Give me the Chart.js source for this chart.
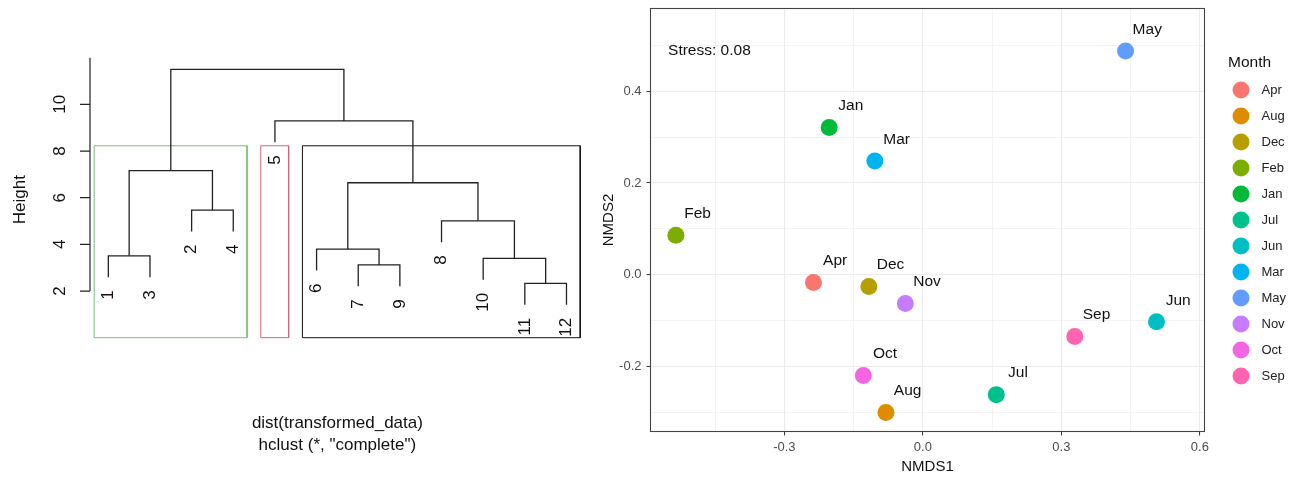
<!DOCTYPE html>
<html>
<head>
<meta charset="utf-8">
<title>Dendrogram and NMDS</title>
<script src="https://cdn.jsdelivr.net/npm/chart.js@4.4.1/dist/chart.umd.min.js"></script>
<style>
  html, body { margin: 0; padding: 0; background: #fff; }
  #wrap { position: relative; width: 1303px; height: 479px; }
  #dendro { position: absolute; left: 0; top: 0; }
  #nmds { position: absolute; left: 600px; top: 0; }
</style>
</head>
<body>
<div id="wrap">
  <canvas id="dendro" width="600" height="479"></canvas>
  <canvas id="nmds" width="703" height="479"></canvas>
</div>
<script>
// ---- hclust (complete linkage) ----
const leafOrder = [1, 3, 2, 4, 5, 6, 7, 9, 8, 10, 11, 12];
// merge steps like R's hclust$merge: negative = leaf, positive = earlier step
const mergeLeft = [-11, -7, -10, -1, -6, -8, -2, 5, 4, -5, 9];
const mergeRight = [-12, -9, 1, -3, 2, 3, -4, 6, 7, 8, 10];
const mergeHeight = [2.33, 3.12, 3.40, 3.51, 3.80, 5.01, 5.47, 6.64, 7.16, 9.29, 11.5];
const heightTicks = [2, 4, 6, 8, 10];
const clusterSizes = [4, 1, 7];
const clusterColors = ['#74c074', '#d5657e', '#111111'];

// ---- NMDS ----
const months = ['Apr', 'Aug', 'Dec', 'Feb', 'Jan', 'Jul', 'Jun', 'Mar', 'May', 'Nov', 'Oct', 'Sep'];
const nmds1 = [-0.237, -0.080, -0.117, -0.535, -0.203, 0.159, 0.506, -0.104, 0.439, -0.038, -0.129, 0.329];
const nmds2 = [-0.017, -0.301, -0.026, 0.086, 0.321, -0.262, -0.103, 0.248, 0.488, -0.063, -0.220, -0.135];
const monthColors = ['#F8766D', '#DE8C00', '#B79F00', '#7CAE00', '#00BA38', '#00C08B',
                     '#00BFC4', '#00B4F0', '#619CFF', '#C77CFF', '#F564E3', '#FF64B0'];
const xTicks = [-0.3, 0.0, 0.3, 0.6];
const yTicks = [-0.2, 0.0, 0.2, 0.4];
const stressValue = 0.08;

const FONT = '"Liberation Sans", Arial, sans-serif';
Chart.defaults.font.family = FONT;

// ---------------- Dendrogram ----------------
const hangDrop = 0.1 * (Math.max(...mergeHeight) - Math.min(...mergeHeight));
const nodeX = [];
const leafTop = {};
const branchSets = [];

function childPoint(id, parentH) {
    if (id < 0) {
        const y = parentH - hangDrop;
        leafTop[-id] = y;
        return { x: leafOrder.indexOf(-id) + 1, y: y };
    }
    return { x: nodeX[id - 1], y: mergeHeight[id - 1] };
}

mergeHeight.forEach((h, i) => {
    const a = childPoint(mergeLeft[i], h);
    const b = childPoint(mergeRight[i], h);
    nodeX[i] = (a.x + b.x) / 2;
    branchSets.push({
        data: [a, { x: a.x, y: h }, { x: b.x, y: h }, b],
        showLine: true, pointRadius: 0, borderColor: '#222', borderWidth: 1.3,
        tension: 0, clip: false
    });
});

// rect.hclust(k = 3)
const sortedDesc = [...mergeHeight].sort((p, q) => q - p);
const k = clusterSizes.length;
const rectTop = (sortedDesc[k - 2] + sortedDesc[k - 1]) / 2;
let cum = 0;
const rectSets = clusterSizes.map((n, i) => {
    const x0 = cum + 0.66, x1 = cum + n + 0.33;
    cum += n;
    return {
        data: [{ x: x0, y: 0 }, { x: x0, y: rectTop }, { x: x1, y: rectTop }, { x: x1, y: 0 }, { x: x0, y: 0 }],
        showLine: true, pointRadius: 0, borderColor: clusterColors[i], borderWidth: 1,
        tension: 0, clip: false
    };
});

const dendroText = {
    id: 'dendroText',
    afterDraw(chart) {
        const { ctx, chartArea: area, scales: { x, y } } = chart;
        ctx.save();
        ctx.strokeStyle = '#222';
        ctx.fillStyle = '#111';
        ctx.lineWidth = 1.2;
        // axis line and ticks
        ctx.beginPath();
        ctx.moveTo(area.left, y.getPixelForValue(heightTicks[0]));
        ctx.lineTo(area.left, y.getPixelForValue(y.max));
        heightTicks.forEach(t => {
            const py = y.getPixelForValue(t);
            ctx.moveTo(area.left - 10, py);
            ctx.lineTo(area.left, py);
        });
        ctx.stroke();

        ctx.font = '17px ' + FONT;
        ctx.textAlign = 'center';
        ctx.textBaseline = 'middle';
        heightTicks.forEach(t => {
            ctx.save();
            ctx.translate(area.left - 30, y.getPixelForValue(t));
            ctx.rotate(-Math.PI / 2);
            ctx.fillText(String(t), 0, 0);
            ctx.restore();
        });
        // y title
        ctx.save();
        ctx.translate(20, (area.top + area.bottom) / 2 + 2);
        ctx.rotate(-Math.PI / 2);
        ctx.fillText('Height', 0, 0);
        ctx.restore();

        // leaf labels
        ctx.textAlign = 'right';
        leafOrder.forEach((leaf, i) => {
            ctx.save();
            ctx.translate(x.getPixelForValue(i + 1), y.getPixelForValue(leafTop[leaf]) + 13);
            ctx.rotate(-Math.PI / 2);
            ctx.fillText(String(leaf), 0, 0);
            ctx.restore();
        });

        // sub titles
        ctx.textAlign = 'center';
        const cx = (area.left + area.right) / 2;
        ctx.fillText('dist(transformed_data)', cx, 423);
        ctx.fillText('hclust (*, "complete")', cx, 445);
        ctx.restore();
    }
};

new Chart(document.getElementById('dendro'), {
    type: 'scatter',
    data: { datasets: branchSets.concat(rectSets) },
    options: {
        responsive: false,
        devicePixelRatio: 1,
        animation: false,
        layout: { padding: { left: 90, right: 15.2, top: 57.7, bottom: 141.3 } },
        scales: {
            x: { type: 'linear', display: false, min: 0.56, max: 12.44 },
            y: { type: 'linear', display: false, min: 0, max: 12 }
        },
        plugins: { legend: { display: false }, tooltip: { enabled: false } }
    },
    plugins: [dendroText]
});

// ---------------- NMDS scatter ----------------
function withMinor(major) {
    const step = major[1] - major[0];
    const out = [];
    for (let i = -1; i < major.length; i++) {
        const a = i < 0 ? major[0] - step : major[i];
        const b = i + 1 < major.length ? major[i + 1] : major[i] + step;
        if (i >= 0) out.push(major[i]);
        out.push(+((a + b) / 2).toFixed(4));
    }
    return out;
}
const isMajor = (list, v) => list.some(t => Math.abs(t - v) < 1e-6);

function axisOptions(major, min, max, titleText, isX) {
    return {
        type: 'linear', min: min, max: max,
        afterBuildTicks: s => {
            s.ticks = withMinor(major).filter(v => v >= min && v <= max).map(v => ({ value: v }));
        },
        afterFit: s => {
            if (isX) {
                s.height = 47.5;
                s.paddingLeft = 0; s.paddingRight = 0;
            } else {
                s.width = 50.5;
                s.paddingTop = 0; s.paddingBottom = 0;
            }
        },
        border: { display: false },
        grid: {
            color: '#ebebeb',
            lineWidth: c => isMajor(major, c.tick.value) ? 1.1 : 0.6,
            tickLength: 4,
            tickColor: c => isMajor(major, c.tick.value) ? '#333' : 'rgba(0,0,0,0)',
            tickWidth: 1
        },
        ticks: {
            autoSkip: false, maxRotation: 0, minRotation: 0,
            color: '#4d4d4d', font: { size: 13 }, padding: isX ? 4 : 5,
            callback: v => isMajor(major, v) ? v.toFixed(1) : ''
        },
        title: {
            display: true, text: titleText, color: '#111',
            font: { size: 15, lineHeight: 1 },
            padding: isX ? { top: 0, bottom: 5 } : { top: 1, bottom: 0 }
        }
    };
}

const pointSets = months.map((m, i) => ({
    label: m,
    data: [{ x: nmds1[i], y: nmds2[i] }],
    backgroundColor: monthColors[i],
    borderWidth: 0,
    pointRadius: 8.5,
    pointHoverRadius: 8.5
}));

const nmdsDecor = {
    id: 'nmdsDecor',
    afterDatasetsDraw(chart) {
        const { ctx, scales: { x, y } } = chart;
        const nudge = 0.047;
        ctx.save();
        ctx.fillStyle = '#111';
        ctx.font = '15.5px ' + FONT;
        ctx.textAlign = 'center';
        ctx.textBaseline = 'middle';
        months.forEach((m, i) => {
            ctx.fillText(m, x.getPixelForValue(nmds1[i] + nudge), y.getPixelForValue(nmds2[i] + nudge));
        });
        ctx.textAlign = 'left';
        ctx.fillText('Stress: ' + stressValue.toFixed(2), x.getPixelForValue(-0.552), y.getPixelForValue(0.488));
        ctx.restore();
    },
    afterDraw(chart) {
        const { ctx, chartArea: a } = chart;
        ctx.save();
        // panel border
        ctx.strokeStyle = '#444';
        ctx.lineWidth = 1.1;
        ctx.strokeRect(a.left, a.top, a.right - a.left, a.bottom - a.top);

        // legend
        ctx.fillStyle = '#111';
        ctx.font = '15.5px ' + FONT;
        ctx.textAlign = 'left';
        ctx.textBaseline = 'middle';
        ctx.fillText('Month', 628, 63);
        ctx.font = '13px ' + FONT;
        chart.data.datasets.forEach((ds, i) => {
            const cy = 90 + i * 26;
            ctx.beginPath();
            ctx.arc(641, cy, 8.5, 0, Math.PI * 2);
            ctx.fillStyle = ds.backgroundColor;
            ctx.fill();
            ctx.fillStyle = '#222';
            ctx.fillText(ds.label, 661.5, cy + 0.5);
        });
        ctx.restore();
    }
};

new Chart(document.getElementById('nmds'), {
    type: 'scatter',
    data: { datasets: pointSets },
    options: {
        responsive: false,
        devicePixelRatio: 1,
        animation: false,
        layout: { padding: { left: 0, right: 98.5, top: 8.5, bottom: 0 } },
        scales: {
            x: axisOptions(xTicks, -0.59, 0.61, 'NMDS1', true),
            y: axisOptions(yTicks, -0.3425, 0.581, 'NMDS2', false)
        },
        plugins: { legend: { display: false }, tooltip: { enabled: false } }
    },
    plugins: [nmdsDecor]
});
</script>
</body>
</html>
